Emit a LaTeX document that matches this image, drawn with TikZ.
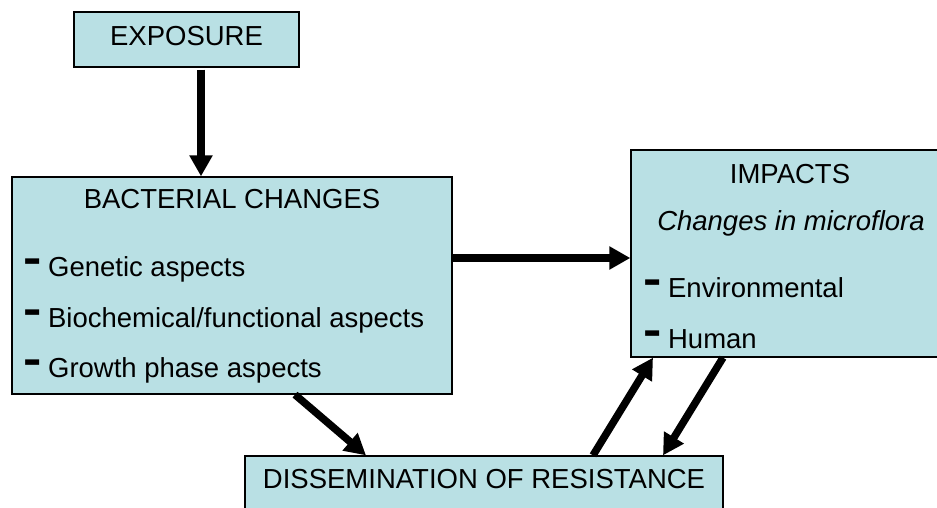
\documentclass[tikz,border=0pt]{standalone}
\usepackage{fontspec}
\setmainfont{Liberation Sans}
\usetikzlibrary{positioning, arrows.meta}
\definecolor{boxblue}{RGB}{185,224,228}
\tikzset{
>={Triangle[length=21pt,width=22pt]}, % heavy arrow heads
box/.style={draw, line width=1.3pt, fill=boxblue, inner sep=0pt}, % the light blue frames
txt/.style={inner sep=0pt, font=\fontsize{27.5}{32}\selectfont}, % text inside the frames
flow/.style={->, line width=7.5pt}, % thick connectors
}
\newcommand{\bul}{\raisebox{2.7pt}{\scalebox{2}[1.67]{\textbf{-}}}\hspace{6pt}}

\begin{document}
\begin{tikzpicture}[x=1pt, y=-1pt]
    \useasboundingbox (0,0) rectangle (937,508);
    % frames
    \node[box, minimum width=225pt, minimum height=55pt] (expo) at (186.5,39.5) {};
    \node[box, minimum width=440pt, minimum height=217pt] (bact) at (232,285.5) {};
    \node[box, minimum width=318pt, minimum height=207pt] (imp) at (790,253.5) {};
    \node[box, minimum width=478pt, minimum height=70pt] (diss) at (484,491) {};
    % texts
    \node[txt, anchor=base] (expot) at (186.5,46) {EXPOSURE};
    \node[txt, anchor=base] (bactt) at (232,208) {BACTERIAL CHANGES};
    \node[txt, anchor=base west] (gen) at (23.6,276) {\bul Genetic aspects};
    \node[txt, anchor=base west] (bio) at (23.6,327) {\bul Biochemical/functional aspects};
    \node[txt, anchor=base west] (gro) at (23.6,377) {\bul Growth phase aspects};
    \node[txt, anchor=base] (impt) at (790,183) {IMPACTS};
    \node[txt, anchor=base] (micro) at (791,230) {\itshape Changes in microflora};
    \node[txt, anchor=base west] (env) at (643.6,297) {\bul Environmental};
    \node[txt, anchor=base west] (hum) at (643.6,348) {\bul Human};
    \node[txt, anchor=base] (disst) at (484,488) {DISSEMINATION OF RESISTANCE};
    % connectors
    \coordinate (v) at ([xshift=14.5pt,yshift=-2pt]expo.south);
    \coordinate (h) at ([yshift=27.5pt]bact.east);
    \draw[flow] (v) -- (v |- bact.north);
    \draw[flow] (h) -- (h -| imp.west);
    \draw[flow] ([xshift=63pt]bact.south) -- ([xshift=-118pt]diss.north);
    \draw[flow] ([xshift=109pt]diss.north) -- ([xshift=-137pt]imp.south);
    \draw[flow] ([xshift=-67pt]imp.south) -- ([xshift=179pt]diss.north);
\end{tikzpicture}
\end{document}
